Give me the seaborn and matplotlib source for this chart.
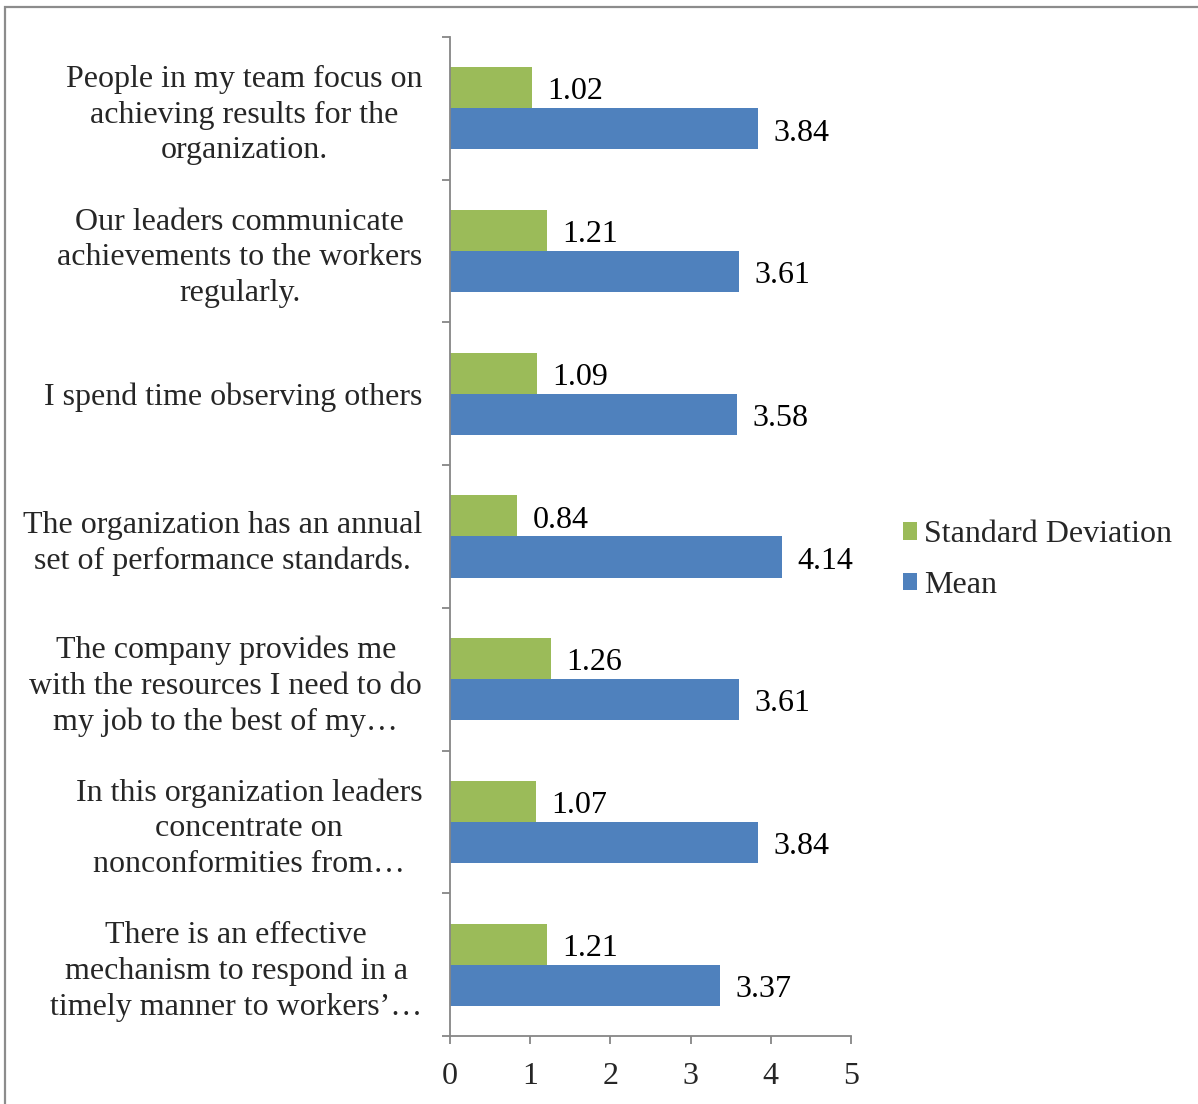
import matplotlib
matplotlib.use("Agg")
import matplotlib.pyplot as plt
from matplotlib.patches import Rectangle
from matplotlib.ticker import FixedLocator
import seaborn as sns
import pandas as pd

# Survey items (top to bottom) and summary statistics
items = [
    "People in my team focus on\nachieving results for the\norganization.",
    "Our leaders communicate\nachievements to the workers\nregularly.",
    "I spend time observing others",
    "The organization has an annual\nset of performance standards.",
    "The company provides me\nwith the resources I need to do\nmy job to the best of my\u2026",
    "In this organization leaders\nconcentrate on\nnonconformities from\u2026",
    "There is an effective\nmechanism to respond in a\ntimely manner to workers\u2019\u2026",
]
std_dev = [1.02, 1.21, 1.09, 0.84, 1.26, 1.07, 1.21]
mean = [3.84, 3.61, 3.58, 4.14, 3.61, 3.84, 3.37]
series_names = ["Standard Deviation", "Mean"]
series_colors = ["#9BBB59", "#4F81BD"]
x_ticks = [0, 1, 2, 3, 4, 5]

df = pd.DataFrame({
    "item": items * 2,
    "value": std_dev + mean,
    "series": [series_names[0]] * len(items) + [series_names[1]] * len(items),
})

sns.set_theme(style="white")
plt.rcParams["font.family"] = ["Liberation Serif", "DejaVu Serif"]
FS = 23
axis_gray = "#868686"

fig = plt.figure(figsize=(11.98, 11.04), dpi=100)
ax = fig.add_axes([0.3756, 0.0616, 0.3347, 0.9049])

sns.barplot(
    data=df, y="item", x="value", hue="series", order=items,
    hue_order=series_names, palette=series_colors, orient="h",
    width=0.575, saturation=1, linewidth=0, errorbar=None, ax=ax,
)

# Value labels just past the end of each bar
for cont in ax.containers:
    for ann in ax.bar_label(cont, fmt="%.2f", padding=11, fontsize=FS,
                            color="black"):
        ann.xyann = (11, -3)

ax.set_xlim(0, 5)
ax.set_ylim(len(items) - 0.5, -0.5)
ax.set_xticks(x_ticks)
ax.set_xticklabels([str(t) for t in x_ticks], fontsize=FS)
ax.set_xlabel("")
ax.set_ylabel("")

# Category labels at the centres, tick marks at the category boundaries
ax.set_yticks(range(len(items)))
ax.set_yticklabels(items, fontsize=FS, ha="right", multialignment="center",
                   linespacing=1.3)
ax.yaxis.set_minor_locator(FixedLocator([i - 0.5 for i in range(len(items) + 1)]))
ax.tick_params(axis="y", which="major", length=0, pad=20)
ax.tick_params(axis="y", which="minor", length=6, width=1.3, color=axis_gray,
               direction="out", left=True)
ax.tick_params(axis="x", which="major", length=6, width=1.3, color=axis_gray,
               direction="out", bottom=True, pad=13)

for side in ["top", "right"]:
    ax.spines[side].set_visible(False)
for side in ["left", "bottom"]:
    ax.spines[side].set_color(axis_gray)
    ax.spines[side].set_linewidth(1.3)

handles, labels = ax.get_legend_handles_labels()
ax.legend(handles, labels, loc="center left", bbox_to_anchor=(0.743, 0.4925),
          bbox_transform=fig.transFigure, frameon=False, fontsize=FS,
          handlelength=0.45, handleheight=0.45, handletextpad=0.22,
          labelspacing=0.68, borderaxespad=0)

# Chart-area frame
fig.patches.append(Rectangle((5 / 1198, -0.1), 1.2, 1 - 7 / 1104 + 0.1,
                             transform=fig.transFigure, fill=False,
                             edgecolor="#8c8c8c", linewidth=1.6, clip_on=False))

fig.savefig("out.png", dpi=100)
